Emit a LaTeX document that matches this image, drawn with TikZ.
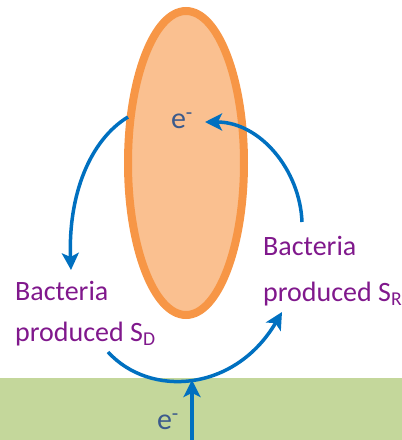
\documentclass[tikz,border=0pt]{standalone}
\usepackage{fontspec}
\setmainfont{Carlito}
\usetikzlibrary{shapes.geometric,arrows.meta}
\definecolor{cellorange}{HTML}{F79646}
\definecolor{cellfill}{HTML}{FAC090}
\definecolor{flowblue}{HTML}{0070C0}
\definecolor{groundgreen}{HTML}{C4D79B}
\definecolor{labelpurple}{RGB}{128,24,140}
\definecolor{elecblue}{HTML}{3B5A8C}
\tikzset{
  flow/.style={draw=flowblue, line width=3.5pt, -{Stealth[length=17pt,width=17pt,inset=4pt]}},
  lbl/.style={text=labelpurple, font=\fontsize{28}{34}\selectfont, inner sep=0pt, anchor=base west},
  elec/.style={text=elecblue, font=\fontsize{30}{34}\selectfont, inner sep=0pt}
}
\begin{document}
\begin{tikzpicture}[x=1pt,y=-1pt]
\useasboundingbox (0,0) rectangle (402,440);
\fill[groundgreen] (0,378) rectangle (402,440);
\node[ellipse, draw=cellorange, fill=cellfill, line width=8pt, minimum width=116pt, minimum height=304pt, inner sep=0pt] (cell) at (186,163) {};
\node[elec] (einner) at (182,121) {e\textsuperscript{-}};
\node[elec] (eouter) at (168,422) {e\textsuperscript{-}};
\node[lbl] (sdone) at (15,300) {Bacteria};
\node[lbl] (sdtwo) at (15,341) {produced S\textsubscript{D}};
\node[lbl] (srone) at (263,255) {Bacteria};
\node[lbl] (srtwo) at (263,301) {produced S\textsubscript{R}};
\coordinate (lstart) at (128,117);
\coordinate (lend) at (71,270);
\coordinate (rstart) at (302,222);
\coordinate (rend) at (205,122);
\coordinate (bstart) at (108,352);
\coordinate (bend) at (282,312);
\coordinate (vstart) at (192,440);
\coordinate (vend) at (192,380);
\draw[flow] (lstart) .. controls (90,140) and (68,195) .. (lend);
\draw[flow] (rstart) .. controls (300,170) and (260,122) .. (rend);
\draw[flow] (bstart) .. controls (150,398) and (235,392) .. (bend);
\draw[flow] (vstart) -- (vend);
\end{tikzpicture}
\end{document}
